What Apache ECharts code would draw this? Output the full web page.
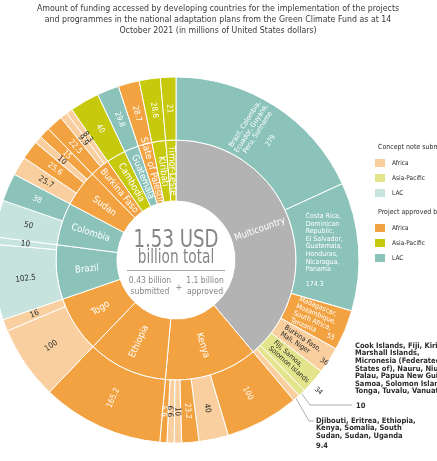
<!DOCTYPE html>
<html><head><meta charset="utf-8">
<script src="https://cdn.jsdelivr.net/npm/echarts@6/dist/echarts.min.js"></script>
<style>html,body{margin:0;padding:0;background:#fff}#c{width:437px;height:461px}</style>
</head><body><div id="c"></div>
<script>
// ---------- DATA ----------
const countries = ['Multicountry','Kenya','Ethiopia','Togo','Brazil','Colombia','Sudan','Burkina Faso','Cambodia','Guatemala','State of Palestine','Kiribati','Timor-Leste'];
const countryRegion = ['Multi','Africa','Africa','Africa','LAC','LAC','Africa','Africa','Asia-Pacific','LAC','Africa','Asia-Pacific','Asia-Pacific'];

const projCountry = [0,0,0,0,0,0,0, 1,1,1,1,1,1, 2, 3,3, 4,4, 5,5, 6,6,6,6, 7,7,7, 8, 9, 10, 11, 12];
const projName = [
  'Brazil, Colombia, Ecuador, Guyana, Peru, Suriname',
  'Costa Rica, Dominican Republic, El Salvador, Guatemala, Honduras, Nicaragua, Panama',
  'Madagascar, Mozambique, South Africa, Tanzania',
  'Burkina Faso, Mali, Niger',
  'Fiji, Samoa, Solomon Islands',
  'Cook Islands, Fiji, Kiribati, Marshall Islands, Micronesia (Federated States of), Nauru, Niue, Palau, Papua New Guinea, Samoa, Solomon Islands, Tonga, Tuvalu, Vanuatu',
  'Djibouti, Eritrea, Ethiopia, Kenya, Somalia, South Sudan, Sudan, Uganda',
  'Kenya','Kenya','Kenya','Kenya','Kenya','Kenya','Ethiopia','Togo','Togo','Brazil','Brazil','Colombia','Colombia',
  'Sudan','Sudan','Sudan','Sudan','Burkina Faso','Burkina Faso','Burkina Faso','Cambodia','Guatemala','State of Palestine','Kiribati','Timor-Leste'];
const projRegion = ['LAC','LAC','Africa','Africa','Asia-Pacific','Asia-Pacific','Africa',
  'Africa','Africa','Africa','Africa','Africa','Africa','Africa','Africa','Africa','LAC','LAC','LAC','LAC',
  'Africa','Africa','Africa','Africa','Africa','Africa','Africa','Asia-Pacific','LAC','Africa','Asia-Pacific','Asia-Pacific'];
const projStatus = ['approved','approved','approved','concept','concept','concept','concept',
  'approved','concept','approved','concept','concept','approved','approved','concept','concept','concept','concept','concept','approved',
  'concept','approved','concept','approved','approved','concept','concept','approved','approved','approved','approved','approved'];
const projValue = [279,174.3,55,36,34,10,9.4, 100,40,23.2,10,9.9,9.5, 165.2, 100,16, 102.5,10, 50,38, 25.7,25.6,10,15, 22.5,9.9,8.3, 40,29.8,28.7,28.6,21];

const legendRegions = ['Africa','Asia-Pacific','LAC'];
const legendGroups = ['Concept note submitted','Project approved by the GCF'];
const centerTexts = ['1.53 USD','billion total','0.43 billion\nsubmitted','1.1 billion\napproved'];
const titleText = 'Amount of funding accessed by developing countries for the implementation of the projects\nand programmes in the national adaptation plans from the Green Climate Fund as at 14\nOctober 2021 (in millions of United States dollars)';

// ---------- STYLE ----------
const FONT = "'Liberation Sans Narrow','DejaVu Sans Condensed',sans-serif";
const COLORS = {
  'Africa': {concept:'#f9cf9f', approved:'#f3a241'},
  'Asia-Pacific': {concept:'#e3e48b', approved:'#c7c90d'},
  'LAC': {concept:'#c6e3de', approved:'#8bc3bb'},
  'Multi': {approved:'#b3b3b3'}
};
const CX = 176, CY = 260, R0 = 59, R1 = 120, R2 = 183;

// special label layouts for the multicountry projects
const labelLayout = {
  0: {lines:['Brazil, Colombia,','Ecuador, Guyana,','Peru, Suriname'], sep:'\n\n'},
  1: {lines:['Costa Rica,','Dominican','Republic,','El Salvador,','Guatemala,','Honduras,','Nicaragua,','Panama'], sep:'\n\n', rotate:0, align:'left', distance:10},
  2: {lines:['Madagascar,','Mozambique,','South Africa,','Tanzania'], sep:'      ', align:'left', distance:9},
  3: {lines:['Burkina Faso,','Mali, Niger'], sep:'       ', align:'left', distance:8},
  4: {lines:['Fiji, Samoa,','Solomon Islands'], sep:'     ', align:'left', distance:8},
  5: {hide:true},
  6: {hide:true}
};

// ---------- BUILD TREE ----------
const tree = countries.map((c,i)=>({
  name:c,
  itemStyle:{color: COLORS[countryRegion[i]].approved},
  label:{formatter:'{b}'},
  children:[]
}));
projValue.forEach((v,j)=>{
  const st = projStatus[j];
  const node = {
    name: projName[j],
    value: v,
    itemStyle:{color: COLORS[projRegion[j]][st]},
    label:{formatter:String(v), color: st==='concept' ? '#2b2b2b' : '#ffffff'}
  };
  const L = labelLayout[j];
  if (L) {
    if (L.hide) node.label.show = false;
    else {
      node.label.formatter = L.lines.join('\n') + L.sep + String(v);
      node.label.fontSize = 7;
      node.label.lineHeight = 7.6;
      if (L.rotate !== undefined) node.label.rotate = L.rotate;
      if (L.align) node.label.align = L.align;
      if (L.distance) node.label.distance = L.distance;
    }
  }
  tree[projCountry[j]].children.push(node);
});

// ---------- LEADER LINES (computed from data) ----------
const total = projValue.reduce((a,b)=>a+b,0);
function midAngle(j){ let s=0; for(let k=0;k<j;k++) s+=projValue[k]; return (s+projValue[j]/2)/total*2*Math.PI; }
function pt(a,r){ return [CX + r*Math.sin(a), CY - r*Math.cos(a)]; }
const p10 = pt(midAngle(5), R2-3);
const p94 = pt(midAngle(6), R2-3);

const graphics = [];
// title
graphics.push({type:'text', x:218, y:3, scaleX:0.92, style:{text:titleText, fontFamily:FONT, fontSize:9.5, lineHeight:11, fill:'#3a3a3a', textAlign:'center', textVerticalAlign:'top'}});
// leader lines
graphics.push({type:'polyline', shape:{points:[p10,[310,405],[352,405]]}, style:{stroke:'#9a9a9a', lineWidth:0.8, fill:null}});
graphics.push({type:'polyline', shape:{points:[p94,[309,421],[314,421]]}, style:{stroke:'#9a9a9a', lineWidth:0.8, fill:null}});
graphics.push({type:'text', x:355, y:342, style:{text:'Cook Islands, Fiji, Kiribati,\nMarshall Islands,\nMicronesia (Federated\nStates of), Nauru, Niue,\nPalau, Papua New Guinea,\nSamoa, Solomon Islands,\nTonga, Tuvalu, Vanuatu', fontFamily:FONT, fontSize:7.5, lineHeight:7.6, fill:'#2b2b2b', fontWeight:'bold', textVerticalAlign:'top'}});
graphics.push({type:'text', x:356, y:406, style:{text:String(projValue[5]), fontFamily:FONT, fontSize:7.5, fill:'#2b2b2b', fontWeight:'bold', textVerticalAlign:'middle'}});
graphics.push({type:'text', x:316, y:417, style:{text:'Djibouti, Eritrea, Ethiopia,\nKenya, Somalia, South\nSudan, Sudan, Uganda', fontFamily:FONT, fontSize:7.5, lineHeight:7.6, fill:'#2b2b2b', fontWeight:'bold', textVerticalAlign:'top'}});
graphics.push({type:'text', x:316, y:446, style:{text:String(projValue[6]), fontFamily:FONT, fontSize:7.5, fill:'#2b2b2b', fontWeight:'bold', textVerticalAlign:'middle'}});

// center
graphics.push({type:'text', x:CX, y:241, scaleX:0.84, style:{text:centerTexts[0], fontFamily:FONT, fontSize:24, fill:'#858585', textAlign:'center', textVerticalAlign:'middle'}});
graphics.push({type:'text', x:CX, y:258, scaleX:0.8, style:{text:centerTexts[1], fontFamily:FONT, fontSize:19, fill:'#858585', textAlign:'center', textVerticalAlign:'middle'}});
graphics.push({type:'line', shape:{x1:127, y1:270.5, x2:225, y2:270.5}, style:{stroke:'#a8a8a8', lineWidth:1}});
graphics.push({type:'text', x:150, y:286, style:{text:centerTexts[2], fontFamily:FONT, fontSize:8.5, lineHeight:11, fill:'#858585', textAlign:'center', textVerticalAlign:'middle'}});
graphics.push({type:'text', x:179, y:288, style:{text:'+', fontFamily:FONT, fontSize:9, fill:'#858585', textAlign:'center', textVerticalAlign:'middle'}});
graphics.push({type:'text', x:205, y:286, style:{text:centerTexts[3], fontFamily:FONT, fontSize:8.5, lineHeight:11, fill:'#858585', textAlign:'center', textVerticalAlign:'middle'}});

// legend
const legendTop = [147, 212];
legendGroups.forEach((g,gi)=>{
  graphics.push({type:'text', x:378, y:legendTop[gi], style:{text:g, fontFamily:FONT, fontSize:7, fill:'#2b2b2b', textVerticalAlign:'middle'}});
  legendRegions.forEach((r,ri)=>{
    const y = legendTop[gi] + 16 + ri*15;
    const st = gi===0 ? 'concept' : 'approved';
    graphics.push({type:'rect', shape:{x:375, y:y-4, width:10, height:8}, style:{fill:COLORS[r][st]}});
    graphics.push({type:'text', x:392, y:y, style:{text:r, fontFamily:FONT, fontSize:6.5, fill:'#2b2b2b', textVerticalAlign:'middle'}});
  });
});

const chart = echarts.init(document.getElementById('c'), null, {renderer:'canvas'});
chart.setOption({
  animation:false,
  series:[{
    type:'sunburst',
    center:[CX, CY],
    radius:[R0, R2],
    sort:null,
    nodeClick:false,
    emphasis:{disabled:true},
    itemStyle:{borderColor:'#ffffff', borderWidth:1},
    label:{fontFamily:FONT},
    data:tree,
    levels:[
      {},
      {r0:R0, r:R1, label:{rotate:'radial', color:'#ffffff', fontSize:9.5, fontFamily:FONT}},
      {r0:R1, r:R2, label:{rotate:'radial', fontSize:8, fontFamily:FONT}}
    ]
  }],
  graphic:graphics
});
</script></body></html>
